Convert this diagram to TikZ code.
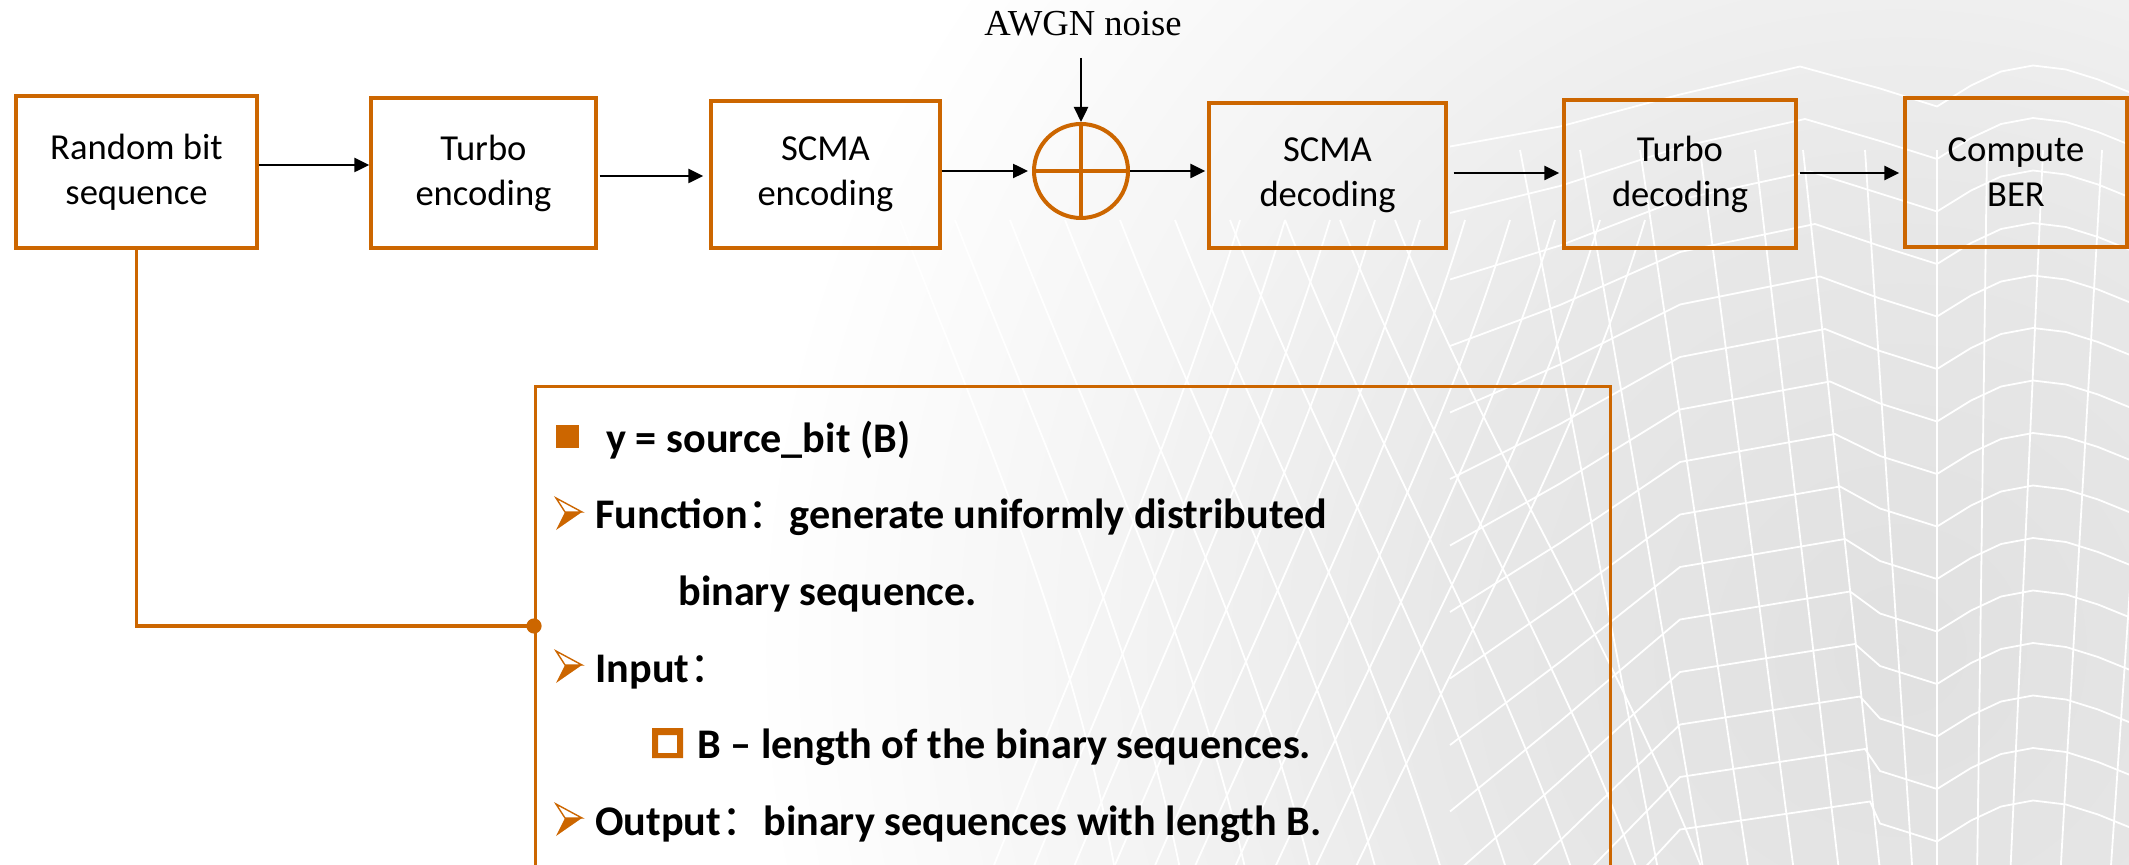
\documentclass[tikz,border=0pt]{standalone}
\usepackage{fontspec}
\setmainfont{Carlito}
\newfontfamily\awgnfont{Liberation Serif}
\newfontfamily\cjkfont{Noto Sans CJK SC}
\usetikzlibrary{arrows.meta,calc}
\definecolor{ora}{RGB}{204,102,0}
% soft grey glow behind the lower right of the sheet (25bp = edge of the shaded path)
\pgfdeclareradialshading{bgglow}{\pgfpoint{0bp}{0bp}}{%
  color(0bp)=(black!12); color(10bp)=(black!9); color(17bp)=(black!4.5); color(25bp)=(white); color(50bp)=(white)}
\tikzset{
  blk/.style={draw=ora, line width=1.7pt, align=center, inner sep=0pt, text=black,
    font=\fontsize{18.3}{22.5}\selectfont},
  flow/.style={-{Triangle[length=7.5pt,width=7pt]}, line width=1.2pt, black},
  mesh/.style={white, line width=0.9pt},
  itm/.style={anchor=base west, inner sep=0pt, font=\bfseries\fontsize{21.1}{25}\selectfont},
  link/.style={ora, line width=1.8pt},
  arrowbullet/.pic={
    \draw[ora, line width=0.7pt, line join=miter] (0,-31) -- (26,-17) -- (9,-17) -- cycle;
    \fill[ora] (9,-17) -- (26,-17) -- (0,1) -- cycle;
  }
}
\begin{document}
\begin{tikzpicture}[x=0.5pt, y=-0.5pt]
\useasboundingbox (0,0) rectangle (2129,865);
\clip (0,0) rectangle (2129,865);
\fill[white] (0,0) rectangle (2129,865);
\path[shading=bgglow] (1900,650) circle [radius=575pt];

% white wire mesh of the backdrop
\begin{scope}[mesh]
  \foreach \k in {0,...,14} {
    \pgfmathsetmacro\yf{106.5+52.5*\k}
    \pgfmathsetmacro\xp{1800+5*\k}
    \pgfmathsetmacro\dl{20+7*\k}
    \draw (1450,\yf+2*\dl) -- (1560,\yf+\dl) -- (1680,\yf-12) -- (\xp,\yf-40)
      -- (1880,\yf-18) -- (1937,\yf) -- (1971,\yf-21) -- (2001,\yf-35)
      -- (2033,\yf-41) -- (2066,\yf-37) -- (2098,\yf-27) -- (2140,\yf-10);
  }
  \foreach \xt/\xb in {1520/1660, 1580/1705, 1640/1750, 1700/1795, 1755/1840,
                       1803/1881, 1865/1913, 1937/1937, 1987/1977, 2043/2010,
                       2102/2060, 2160/2110}
    \draw (\xt,150) -- (\xb,880);
  \foreach \i in {0,...,9}
    \draw (900+55*\i,220) .. controls (990+55*\i,450) and (1080+60*\i,650) .. (1120+66*\i,900);
  \foreach \i in {0,...,9}
    \draw (1240+45*\i,220) .. controls (1170+45*\i,450) and (1080+42*\i,650) .. (980+40*\i,900);
\end{scope}

% processing chain
\node[blk, minimum width=120.5pt, minimum height=76pt] (rnd) at (136.5,172) {Random bit\\sequence};
\node[blk, minimum width=112.5pt, minimum height=75pt] (tenc) at (483.5,173) {Turbo\\encoding};
\node[blk, minimum width=114.5pt, minimum height=73.5pt] (senc) at (825.5,174.5) {SCMA\\encoding};
\node[draw=ora, line width=2pt, circle, inner sep=0pt, minimum size=47pt] (sum) at (1081,171) {};
\node[blk, minimum width=118.5pt, minimum height=72.5pt] (sdec) at (1327.5,175.5) {SCMA\\decoding};
\node[blk, minimum width=116pt, minimum height=74pt] (tdec) at (1680,174) {Turbo\\decoding};
\node[blk, minimum width=111pt, minimum height=74.5pt] (ber) at (2016,172.5) {Compute\\BER};
\draw[ora, line width=2pt] (sum.north) -- (sum.south) (sum.west) -- (sum.east);

\draw[flow] (rnd.east |- 0,165) -- (tenc.west |- 0,165);
\draw[flow, shorten <=1pt, shorten >=3pt] (tenc.east |- 0,176) -- (senc.west |- 0,176);
\draw[flow, shorten >=2pt] (senc.east |- 0,171) -- (sum.west);
\draw[flow, shorten >=1pt] (sum.east) -- (sdec.west |- 0,171);
\draw[flow, shorten <=3pt, shorten >=1.5pt] (sdec.east |- 0,173) -- (tdec.west |- 0,173);
\draw[flow, shorten <=1pt, shorten >=2pt] (tdec.east |- 0,173) -- (ber.west |- 0,173);

% noise input
\node[font=\awgnfont\fontsize{18.3}{22}\selectfont, anchor=base, inner sep=0pt] (awgn) at (1083,36) {AWGN noise};
\coordinate (awgnfoot) at ([yshift=-11pt]awgn.base);
\draw[flow] (awgnfoot -| sum.north) -- (sum.north);

% description of the source block
\node[draw=ora, line width=1.5pt, anchor=north west, minimum width=537.5pt,
      minimum height=270pt, inner sep=0pt] (info) at (534,385) {};
\coordinate (tap) at (info.west |- 0,626);
\draw[link] (rnd.south) |- (tap);
\fill[ora] (tap) circle [radius=3.8pt];

\fill[ora] (556,425) rectangle (579,448);
\node[itm] (l1) at (606,453) {y = source\_bit (B)};
\pic at (556,529) {arrowbullet};
\node[itm] (l2) at (595,529) {Function{\cjkfont\mdseries ：}generate uniformly distributed};
\node[itm] (l3) at (678,605) {binary sequence.};
\pic at (556,682) {arrowbullet};
\node[itm] (l4) at (595,682) {Input{\cjkfont\mdseries ：}};
\fill[ora, even odd rule] (652,728) rectangle (683,758) (658,735) rectangle (677,753);
\node[itm] (l5) at (697,758) {B -- length of the binary sequences.};
\pic at (556,835) {arrowbullet};
\node[itm] (l6) at (595,835) {Output{\cjkfont\mdseries ：}binary sequences with length B.};
\end{tikzpicture}
\end{document}
